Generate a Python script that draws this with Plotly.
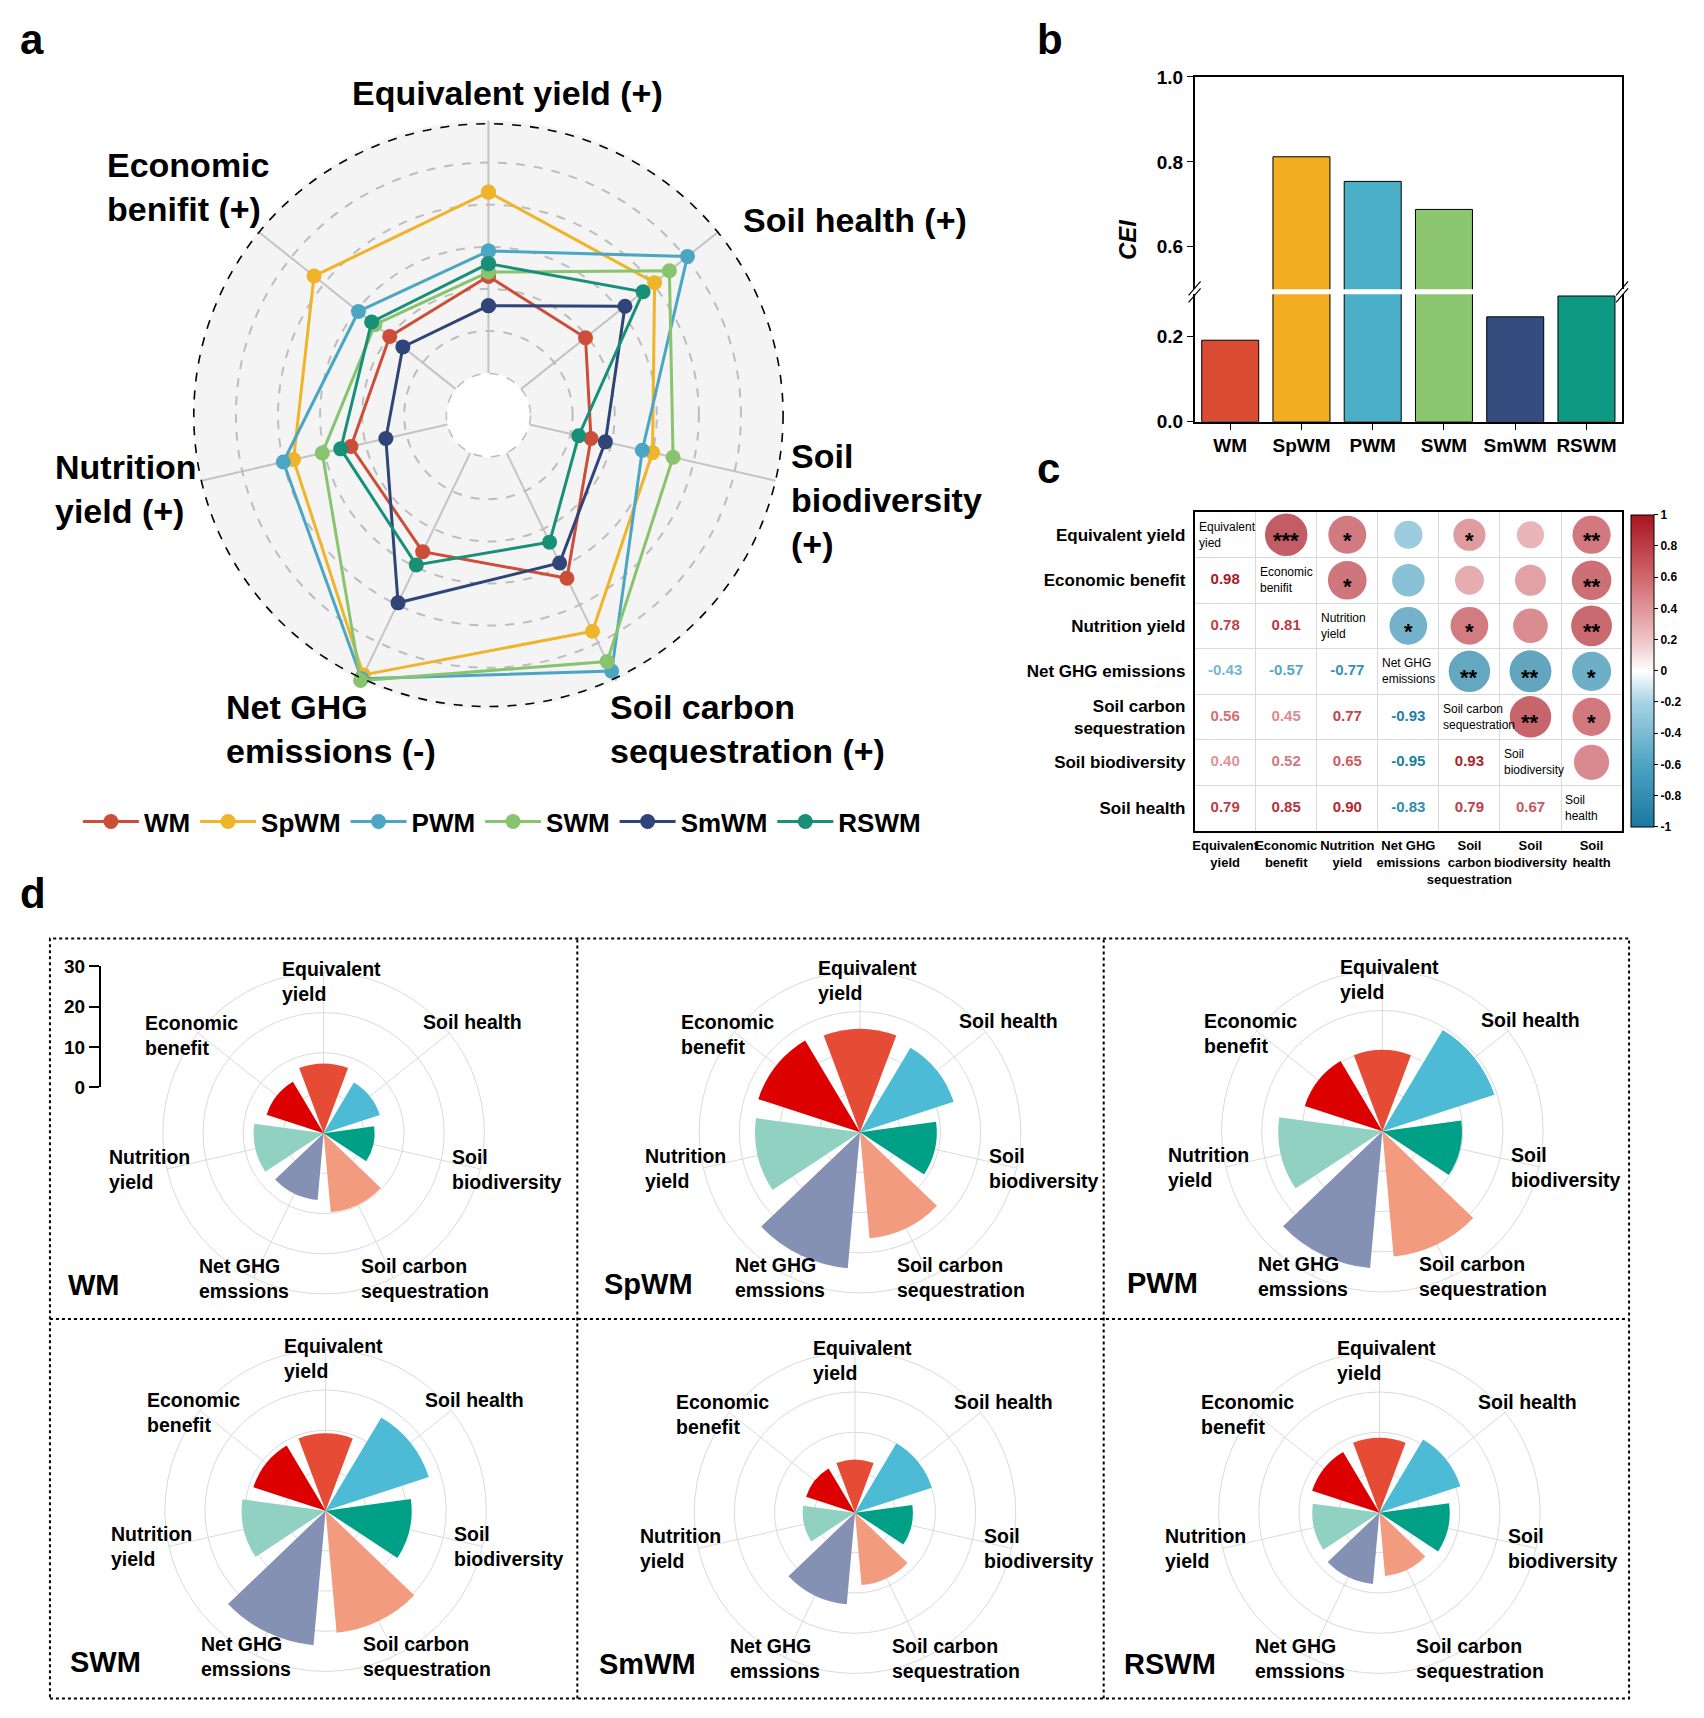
import plotly.graph_objects as go
from plotly.colors import sample_colorscale

W, H = 1704, 1718
FONT = "Liberation Sans, Arial, Helvetica, sans-serif"


def px(x):
    return x / W


def py(y):
    return 1 - (1.011 * y - 8.4) / H


# ---------------- data ----------------
treatments = ["WM", "SpWM", "PWM", "SWM", "SmWM", "RSWM"]

# panel a (normalised scores, clockwise from top)
radar_axes = ["Equivalent yield", "Soil health", "Soil biodiversity",
              "Soil carbon sequestration", "Net GHG emissions",
              "Nutrition yield", "Economic benefit"]
radar_WM = [0.46, 0.39, 0.30, 0.66, 0.52, 0.47, 0.40]
radar_SpWM = [0.86, 0.81, 0.60, 0.94, 1.17, 0.75, 0.86]
radar_PWM = [0.58, 1.01, 0.55, 1.15, 1.19, 0.80, 0.59]
radar_SWM = [0.48, 0.90, 0.70, 1.10, 1.20, 0.61, 0.49]
radar_SmWM = [0.32, 0.63, 0.37, 0.58, 0.79, 0.30, 0.32]
radar_RSWM = [0.52, 0.74, 0.24, 0.47, 0.59, 0.52, 0.51]
radar_values = [radar_WM, radar_SpWM, radar_PWM, radar_SWM, radar_SmWM, radar_RSWM]

# panel b
cei_values = [0.192, 0.812, 0.754, 0.688, 0.247, 0.296]

# panel c
corr_vars = ["Equivalent yield", "Economic benefit", "Nutrition yield",
             "Net GHG emissions", "Soil carbon sequestration",
             "Soil biodiversity", "Soil health"]
corr_matrix = [
    [1.00, 0.98, 0.78, -0.43, 0.56, 0.40, 0.79],
    [0.98, 1.00, 0.81, -0.57, 0.45, 0.52, 0.85],
    [0.78, 0.81, 1.00, -0.77, 0.77, 0.65, 0.90],
    [-0.43, -0.57, -0.77, 1.00, -0.93, -0.95, -0.83],
    [0.56, 0.45, 0.77, -0.93, 1.00, 0.93, 0.79],
    [0.40, 0.52, 0.65, -0.95, 0.93, 1.00, 0.67],
    [0.79, 0.85, 0.90, -0.83, 0.79, 0.67, 1.00],
]
corr_stars = [
    ["", "***", "*", "", "*", "", "**"],
    ["", "", "*", "", "", "", "**"],
    ["", "", "", "*", "*", "", "**"],
    ["", "", "", "", "**", "**", "*"],
    ["", "", "", "", "", "**", "*"],
    ["", "", "", "", "", "", ""],
    ["", "", "", "", "", "", ""],
]
row_labels = ["Equivalent yield", "Economic benefit", "Nutrition yield",
              "Net GHG emissions", "Soil carbon<br>sequestration",
              "Soil biodiversity", "Soil health"]
col_labels = ["Equivalent<br>yield", "Economic<br>benefit", "Nutrition<br>yield",
              "Net GHG<br>emissions", "Soil<br>carbon<br>sequestration",
              "Soil<br>biodiversity", "Soil<br>health"]
diag_labels = ["Equivalent<br>yied", "Economic<br>benifit", "Nutrition<br>yield",
               "Net GHG<br>emissions", "Soil carbon<br>sequestration",
               "Soil<br>biodiversity", "Soil<br>health"]

# panel d (same axis order as panel a)
petal_axes = radar_axes
petal_labels = ["Equivalent<br>yield", "Soil health", "Soil<br>biodiversity",
                "Soil carbon<br>sequestration", "Net GHG<br>emssions",
                "Nutrition<br>yield", "Economic<br>benefit"]
petal_WM = [17.3, 14.7, 12.7, 19.7, 16.7, 17.4, 14.9]
petal_SpWM = [25.7, 24.5, 19.1, 26.5, 34.0, 26.1, 26.6]
petal_PWM = [20.2, 29.3, 19.8, 31.3, 34.2, 25.9, 20.3]
petal_SWM = [19.2, 27.0, 21.4, 30.5, 33.6, 20.9, 18.9]
petal_SmWM = [13.2, 20.1, 14.4, 18.1, 22.9, 13.0, 12.8]
petal_RSWM = [18.6, 21.2, 17.5, 15.8, 17.8, 16.7, 17.6]
petal_values = [petal_WM, petal_SpWM, petal_PWM, petal_SWM, petal_SmWM, petal_RSWM]
scale_ticks = [0, 10, 20, 30]

# ---------------- styles ----------------
line_colors = ["#CC4E38", "#F0B42A", "#4AA6C2", "#88C36E", "#2F4579", "#188F77"]
bar_colors = ["#D94C33", "#F2AE1E", "#4BAFC8", "#8CC66E", "#344C7E", "#0E9A82"]
petal_colors = ["#E64B35", "#4DBBD5", "#00A087", "#F39B7F", "#8491B4", "#91D1C2", "#DC0000"]
corr_scale = [[0.0, "#1A79A0"], [0.2, "#4FA3C3"], [0.4, "#A9D3E4"], [0.5, "#FFFFFF"],
              [0.6, "#EDC3C6"], [0.8, "#D0676D"], [1.0, "#A8141F"]]

fig = go.Figure()
annotations = []
shapes = []


def ann(text, x, y, size, xanchor="left", yanchor="middle", align="left",
        weight="bold", color="black", **kw):
    annotations.append(dict(text=text, x=px(x), y=py(y), xref="paper", yref="paper",
                            xanchor=xanchor, yanchor=yanchor, align=align,
                            showarrow=False,
                            font=dict(size=size, color=color, family=FONT, weight=weight),
                            **kw))


# ================= panel a : radar =================
cx, cy, R = 487, 414, 295
for name, vals, col in zip(treatments, radar_values, line_colors):
    fig.add_trace(go.Scatterpolar(
        r=vals + [vals[0]], theta=radar_axes + [radar_axes[0]],
        mode="lines+markers", name=name, subplot="polar",
        line=dict(color=col, width=3), marker=dict(color=col, size=15),
        hoverinfo="skip"))


def circle_shape(r, color, width):
    x0, x1 = px(cx - r), px(cx + r)
    yc = (py(cy - r) + py(cy + r)) / 2
    hr = (x1 - x0) / 2 * W / H
    return dict(type="circle", xref="paper", yref="paper", layer="above",
                x0=x0, x1=x1, y0=yc - hr, y1=yc + hr,
                line=dict(color=color, width=width, dash="dash"))


shapes.append(circle_shape(R, "black", 1.6))
shapes.append(circle_shape(R / 7, "#BDBDBD", 1.5))

ann("Equivalent yield (+)", 506, 91, 34, xanchor="center", align="center")
ann("Economic<br>benifit (+)", 103, 186, 34)
ann("Soil health (+)", 740, 219, 34)
ann("Soil<br>biodiversity<br>(+)", 788, 499, 34)
ann("Soil carbon<br>sequestration (+)", 607, 728, 34)
ann("Net GHG<br>emissions (-)", 222, 728, 34)
ann("Nutrition<br>yield (+)", 51, 488, 34)

# ================= panel b : CEI bars (broken axis) =================
for xa, ya in (("x", "y"), ("x2", "y2")):
    fig.add_trace(go.Bar(x=treatments, y=cei_values, xaxis=xa, yaxis=ya,
                         marker=dict(color=bar_colors, line=dict(color="black", width=1)),
                         width=0.8, showlegend=False, hoverinfo="skip"))

bx0, bx1 = 1194, 1622
for bxp in (bx0, bx1):
    for off in (0, 7):
        shapes.append(dict(type="line", xref="paper", yref="paper",
                           x0=px(bxp - 6), y0=py(294 + off), x1=px(bxp + 6), y1=py(280 + off),
                           line=dict(color="black", width=1.2)))
ann("<i>CEI</i>", 1127, 238, 24, xanchor="center", align="center", textangle=-90)

# ================= panel c : correlation matrix =================
n = len(corr_vars)
up_x, up_y, up_v = [], [], []
lo_x, lo_y, lo_v = [], [], []
for i in range(n):
    for j in range(n):
        v = corr_matrix[i][j]
        if j > i:
            up_x.append(j + 1); up_y.append(i + 1); up_v.append(v)
        elif j < i:
            lo_x.append(j + 1); lo_y.append(i + 1); lo_v.append(v)

fig.add_trace(go.Scatter(
    x=up_x, y=up_y, mode="markers", xaxis="x3", yaxis="y3", showlegend=False,
    hoverinfo="skip",
    marker=dict(size=[abs(v) for v in up_v], sizemode="area", sizeref=2.0 / 43.0 ** 2,
                color=up_v, colorscale=corr_scale, cmin=-1, cmax=1,
                line=dict(width=0),
                colorbar=dict(x=px(1631), xanchor="left", y=py(670), yanchor="middle",
                              len=312, lenmode="pixels", thickness=23, thicknessmode="pixels",
                              outlinewidth=1, outlinecolor="black", xpad=0, ypad=0,
                              tickvals=[1, 0.8, 0.6, 0.4, 0.2, 0, -0.2, -0.4, -0.6, -0.8, -1],
                              ticktext=["1", "0.8", "0.6", "0.4", "0.2", "0", "-0.2", "-0.4",
                                        "-0.6", "-0.8", "-1"],
                              ticks="outside", ticklen=4, tickcolor="black",
                              tickfont=dict(size=12, family=FONT, weight="bold")))))

lo_colors = sample_colorscale(corr_scale, [(v + 1) / 2 for v in lo_v])
fig.add_trace(go.Scatter(
    x=lo_x, y=lo_y, mode="text", xaxis="x3", yaxis="y3", showlegend=False,
    hoverinfo="skip", text=["%.2f" % v for v in lo_v],
    textfont=dict(size=15, color=lo_colors, family=FONT, weight="bold")))

for i in range(n):
    for j in range(n):
        if corr_stars[i][j]:
            annotations.append(dict(text=corr_stars[i][j], x=j + 1, y=i + 1, xref="x3", yref="y3",
                                    showarrow=False, yshift=-6,
                                    font=dict(size=22, color="black", family=FONT, weight="bold")))
    annotations.append(dict(text=diag_labels[i], x=i + 0.5, y=i + 1, xref="x3", yref="y3",
                            xanchor="left", yanchor="middle", align="left", xshift=2,
                            showarrow=False,
                            font=dict(size=12, color="black", family=FONT, weight="normal")))

# ================= panel d : petal charts =================
petal_centers = [(322, 1133), (859, 1132), (1382, 1131), (324, 1511), (854, 1513), (1379, 1513)]
PR = 161
label_offsets = [(-44, -152), (97, -111), (127, 36), (35, 146), (-127, 146), (-217, 36), (-181, -98)]
for k, (name, vals, (pcx, pcy)) in enumerate(zip(treatments, petal_values, petal_centers)):
    sp = "polar%d" % (k + 2)
    fig.add_trace(go.Barpolar(r=vals, theta=petal_axes, subplot=sp, showlegend=False,
                              marker=dict(color=petal_colors, line=dict(width=0)),
                              hoverinfo="skip"))
    for lab, (dx, dy) in zip(petal_labels, label_offsets):
        ann(lab, pcx + dx, pcy + dy, 19.5)
    ann(name, pcx - 258, pcy + 152, 29)

# scale bar (WM panel)
fig.add_trace(go.Scatter(x=[None], y=[None], xaxis="x4", yaxis="y4", showlegend=False,
                         hoverinfo="skip"))

# dashed frame for panel d
dash_line = dict(color="black", width=2, dash="dot")
shapes.append(dict(type="rect", xref="paper", yref="paper", x0=px(48), x1=px(1629),
                   y0=py(1699), y1=py(938), line=dash_line))
for xv in (576, 1103):
    shapes.append(dict(type="line", xref="paper", yref="paper", x0=px(xv), x1=px(xv),
                       y0=py(1699), y1=py(938), line=dash_line))
shapes.append(dict(type="line", xref="paper", yref="paper", x0=px(48), x1=px(1629),
                   y0=py(1319), y1=py(1319), line=dash_line))

# panel letters
ann("a", 16, 38, 42)
ann("b", 1034, 38, 42)
ann("c", 1034, 467, 42)
ann("d", 16, 893, 42)

# ================= layout =================
layout = dict(
    width=W, height=H, margin=dict(l=0, r=0, t=0, b=0),
    paper_bgcolor="white", plot_bgcolor="white",
    font=dict(family=FONT, color="black", weight="bold"),
    showlegend=True,
    legend=dict(orientation="h", x=px(76), y=py(821), xanchor="left", yanchor="middle",
                font=dict(size=26, family=FONT, weight="bold"), itemwidth=56,
                bgcolor="rgba(0,0,0,0)"),
    polar=dict(
        domain=dict(x=[px(cx - R), px(cx + R)], y=[py(cy + R), py(cy - R)]),
        hole=1 / 7, bgcolor="#F4F4F4",
        radialaxis=dict(range=[0, 1.2], tickvals=[0.2, 0.4, 0.6, 0.8, 1.0],
                        showticklabels=False, ticks="", showline=False,
                        gridcolor="#BDBDBD", griddash="dash", gridwidth=1.5),
        angularaxis=dict(rotation=90, direction="clockwise", showticklabels=False, ticks="",
                         showline=False, gridcolor="#C4C4C4", gridwidth=1.5,
                         categoryorder="array", categoryarray=radar_axes)),
    xaxis=dict(domain=[px(bx0), px(bx1)], anchor="y", categoryorder="array",
               categoryarray=treatments, showline=True, linecolor="black", linewidth=1.5,
               ticks="outside", ticklen=6, tickcolor="black",
               tickfont=dict(size=19, family=FONT, weight="bold")),
    yaxis=dict(domain=[py(420.7), py(293)], anchor="x", range=[0, 0.3],
               tickvals=[0, 0.2], tickformat=".1f", showline=True, mirror=True,
               linecolor="black", linewidth=1.5, ticks="outside", ticklen=6,
               tickcolor="black", showgrid=False, zeroline=False,
               tickfont=dict(size=19, family=FONT, weight="bold")),
    xaxis2=dict(domain=[px(bx0), px(bx1)], anchor="y2", matches="x", side="top",
                showticklabels=False, ticks="", showline=True, linecolor="black",
                linewidth=1.5),
    yaxis2=dict(domain=[py(288), py(75.3)], anchor="x2", range=[0.5, 1.0],
                tickvals=[0.6, 0.8, 1.0], tickformat=".1f", showline=True, mirror=True,
                linecolor="black", linewidth=1.5, ticks="outside", ticklen=6,
                tickcolor="black", showgrid=False, zeroline=False,
                tickfont=dict(size=19, family=FONT, weight="bold")),
    xaxis3=dict(domain=[px(1194), px(1622)], anchor="y3", range=[0.5, 7.5],
                tickvals=list(range(1, 8)), ticktext=col_labels, ticks="", tickangle=0,
                showgrid=False, zeroline=False, showline=True, mirror=True,
                linecolor="black", linewidth=1.5, ticklabelstandoff=2,
                minor=dict(tickmode="array", tickvals=[1.5, 2.5, 3.5, 4.5, 5.5, 6.5],
                           showgrid=True, gridcolor="#D9D9D9", gridwidth=1, ticks=""),
                tickfont=dict(size=13, family=FONT, weight="bold")),
    yaxis3=dict(domain=[py(830), py(511)], anchor="x3", range=[7.5, 0.5],
                tickvals=list(range(1, 8)), ticktext=row_labels, ticks="",
                showgrid=False, zeroline=False, showline=True, mirror=True,
                linecolor="black", linewidth=1.5, ticklabelstandoff=4,
                minor=dict(tickmode="array", tickvals=[1.5, 2.5, 3.5, 4.5, 5.5, 6.5],
                           showgrid=True, gridcolor="#D9D9D9", gridwidth=1, ticks=""),
                tickfont=dict(size=17, family=FONT, weight="bold")),
    xaxis4=dict(domain=[px(99), px(100)], anchor="y4", visible=False, range=[0, 1]),
    yaxis4=dict(domain=[py(1087), py(966)], anchor="x4", range=[0, 30],
                tickvals=scale_ticks, showline=True, linecolor="black", linewidth=2,
                ticks="outside", ticklen=10, tickwidth=2, tickcolor="black",
                showgrid=False, zeroline=False,
                tickfont=dict(size=19, family=FONT, weight="bold")),
    annotations=annotations, shapes=shapes,
)

for k, (pcx, pcy) in enumerate(petal_centers):
    layout["polar%d" % (k + 2)] = dict(
        domain=dict(x=[px(pcx - PR), px(pcx + PR)], y=[py(pcy + PR), py(pcy - PR)]),
        bgcolor="white", bargap=0.2,
        radialaxis=dict(range=[0, 40], tickvals=[10, 20, 30], showticklabels=False,
                        ticks="", showline=False, gridcolor="#DADADA", gridwidth=1),
        angularaxis=dict(rotation=90, direction="clockwise", showticklabels=False,
                         ticks="", showline=True, linecolor="#DADADA", linewidth=1,
                         gridcolor="#DADADA", gridwidth=1,
                         categoryorder="array", categoryarray=petal_axes))

fig.update_layout(**layout)
fig.write_html("out.html", config={"displayModeBar": False},
               post_script="document.body.style.margin='0';document.body.style.overflow='hidden';")
